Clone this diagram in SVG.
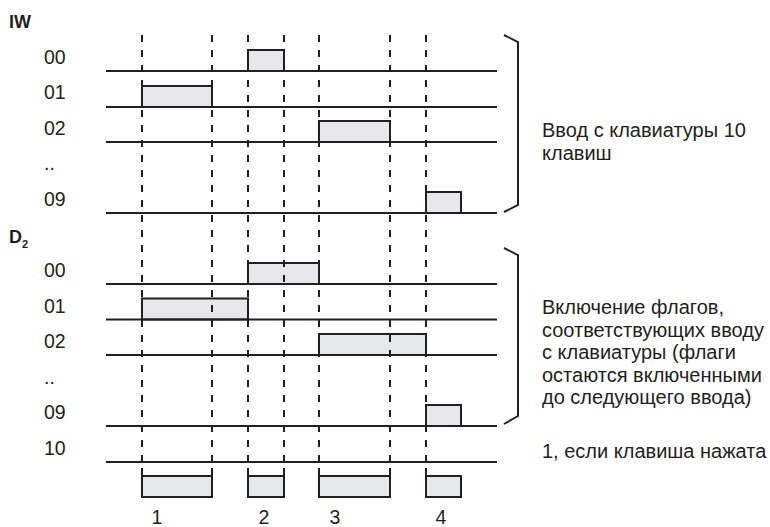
<svg xmlns="http://www.w3.org/2000/svg" width="770" height="527" viewBox="0 0 770 527">
<style>
text{font-family:"Liberation Sans",Arial,sans-serif;fill:#231f20}
.lbl{font-size:19.5px}
.note{font-size:20px}
.hdr{font-weight:bold;font-size:18px}
.row{stroke:#231f20;stroke-width:2;fill:none}
.pulse{fill:#e6e7e8;stroke:#231f20;stroke-width:2}
.dash{stroke:#231f20;stroke-width:2;stroke-dasharray:7 8;fill:none}
.br{stroke:#231f20;stroke-width:2;fill:none}
</style>
<rect width="770" height="527" fill="#fff"/>
<g id="headers">
<text class="hdr" x="9" y="28">IW</text>
<text class="hdr" x="9" y="243" font-size="17">D<tspan font-size="11" dy="5">2</tspan></text>
</g>
<g id="labels-iw">
<text class="lbl" x="44" y="64">00</text>
<text class="lbl" x="44" y="99">01</text>
<text class="lbl" x="44" y="135">02</text>
<text class="lbl" x="44" y="170">..</text>
<text class="lbl" x="44" y="206">09</text>
</g>
<g id="labels-d2">
<text class="lbl" x="44" y="277">00</text>
<text class="lbl" x="44" y="313">01</text>
<text class="lbl" x="44" y="348">02</text>
<text class="lbl" x="44" y="384">..</text>
<text class="lbl" x="44" y="419">09</text>
<text class="lbl" x="44" y="455">10</text>
</g>
<g id="pulses">
<rect class="pulse" x="248" y="50" width="36" height="21"/>
<rect class="pulse" x="142" y="86" width="70" height="21"/>
<rect class="pulse" x="319" y="121" width="71" height="21"/>
<rect class="pulse" x="426" y="192" width="35" height="21"/>
<rect class="pulse" x="248" y="263" width="71" height="21"/>
<rect class="pulse" x="142" y="298.5" width="106" height="21"/>
<rect class="pulse" x="319" y="334" width="107" height="21"/>
<rect class="pulse" x="426" y="405" width="35" height="21"/>
</g>
<g id="keys">
<path class="row" d="M142,468V476M212,468V476M248,468V476M284,468V476M319,468V476M390,468V476M426,468V476"/>
<rect class="pulse" x="142" y="476" width="70" height="21"/>
<rect class="pulse" x="248" y="476" width="36" height="21"/>
<rect class="pulse" x="319" y="476" width="71" height="21"/>
<rect class="pulse" x="426" y="476" width="35" height="21"/>
<text class="lbl" x="157" y="524" text-anchor="middle" font-size="18.5">1</text>
<text class="lbl" x="264" y="524" text-anchor="middle" font-size="18.5">2</text>
<text class="lbl" x="335" y="524" text-anchor="middle" font-size="18.5">3</text>
<text class="lbl" x="441" y="524" text-anchor="middle" font-size="18.5">4</text>
</g>
<g id="rows">
<path class="row" d="M106,71H497M106,107H497M106,142H497M106,213H497M106,284H497M106,319.5H497M106,355H497M106,426H497M106,462H497"/>
</g>
<g id="connectors">
<path class="dash" d="M142,35V468M212,35V468M248,35V468M284,35V468M319,35V468M390,35V468M426,35V468"/>
</g>
<g id="brackets">
<path class="br" d="M504,35L518,42V205L504,212"/>
<path class="br" d="M504,248L518,255V416L504,424"/>
</g>
<g id="notes">
<text class="note" x="542" y="137">Ввод с клавиатуры 10</text>
<text class="note" x="542" y="160">клавиш</text>
<text class="note" x="542" y="314">Включение флагов,</text>
<text class="note" x="542" y="336.5">соответствующих вводу</text>
<text class="note" x="542" y="359">с клавиатуры (флаги</text>
<text class="note" x="542" y="381.5">остаются включенными</text>
<text class="note" x="542" y="404">до следующего ввода)</text>
<text class="note" x="542" y="458">1, если клавиша нажата</text>
</g>
</svg>
